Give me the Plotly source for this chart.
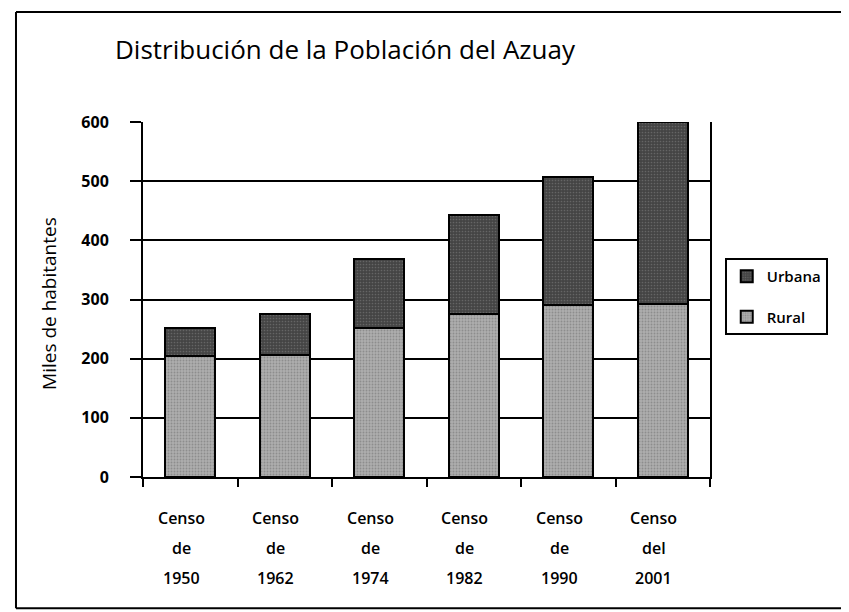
import plotly.graph_objects as go

# Data (miles de habitantes)
censos = ["Censo de 1950", "Censo de 1962", "Censo de 1974", "Censo de 1982", "Censo de 1990", "Censo del 2001"]
label_lines = [
    ["Censo", "de", "1950"],
    ["Censo", "de", "1962"],
    ["Censo", "de", "1974"],
    ["Censo", "de", "1982"],
    ["Censo", "de", "1990"],
    ["Censo", "del", "2001"],
]
rural = [205, 207, 251, 275, 291, 293]
urbana = [46, 68, 118, 168, 216, 307]
y_ticks = [0, 100, 200, 300, 400, 500, 600]

FONT = "Open Sans"
OFF = 8  # default body margin of the page

fig = go.Figure()
fig.add_trace(go.Bar(
    x=censos, y=rural, name="Rural", legendgroup="r", legendrank=2,
    marker=dict(color="#a3a3a3", line=dict(color="black", width=2),
                pattern=dict(shape=".", size=3, solidity=0.3, fgcolor="#6e6e6e", bgcolor="#adadad")),
))
fig.add_trace(go.Bar(
    x=censos, y=urbana, name="Urbana", legendgroup="u", legendrank=1,
    marker=dict(color="#505050", line=dict(color="black", width=2),
                pattern=dict(shape=".", size=3, solidity=0.25, fgcolor="#858585", bgcolor="#444444")),
))

annotations = []
row_y = [-0.115, -0.2, -0.285]
for cat, lines in zip(censos, label_lines):
    for j, t in enumerate(lines):
        annotations.append(dict(
            x=cat, xref="x", y=row_y[j], yref="paper", text=t, showarrow=False,
            xshift=-9, font=dict(family=FONT, size=16, color="black", weight=600),
            xanchor="center", yanchor="middle",
        ))
annotations.append(dict(
    x=-0.166, xref="paper", y=0.49, yref="paper", text="Miles de habitantes",
    textangle=-90, showarrow=False, font=dict(family=FONT, size=19, color="black"),
    xanchor="center", yanchor="middle",
))

shapes = [
    dict(type="line", xref="paper", yref="paper", x0=-0.224, x1=-0.224, y0=-0.37, y1=1.31,
         line=dict(color="black", width=2)),
    dict(type="line", xref="paper", yref="paper", x0=-0.224, x1=1.25, y0=1.31, y1=1.31,
         line=dict(color="black", width=2)),
    dict(type="line", xref="paper", yref="paper", x0=-0.224, x1=1.25, y0=-0.37, y1=-0.37,
         line=dict(color="black", width=2)),
]

W, H = 849 - OFF, 612 - OFF
fig.update_layout(
    width=W, height=H,
    margin=dict(l=143 - OFF, r=139, t=122 - OFF, b=135),
    paper_bgcolor="white", plot_bgcolor="white",
    barmode="stack", bargap=0.47,
    title=dict(text="Distribución de la Población del Azuay", x=(115 - OFF) / W, xanchor="left",
               y=1 - (50 - OFF) / H, yanchor="middle",
               font=dict(family=FONT, size=26, color="black")),
    font=dict(family=FONT, color="black"),
    showlegend=True,
    legend=dict(x=1.026, xanchor="left", y=0.617, yanchor="top",
                bordercolor="black", borderwidth=2, bgcolor="white",
                traceorder="grouped", tracegroupgap=18, entrywidth=118,
                font=dict(family=FONT, size=15, color="black", weight=600)),
    annotations=annotations,
    shapes=shapes,
)
fig.update_xaxes(
    type="category", range=[-0.5, 5.5], showticklabels=False, showline=True,
    linecolor="black", linewidth=2,
    ticks="outside", tickson="boundaries", ticklen=8, tickwidth=2, tickcolor="black",
    showgrid=False, mirror=False,
)
fig.update_yaxes(
    range=[0, 600], tickvals=y_ticks, showline=True, linecolor="black", linewidth=2,
    mirror=True, ticks="outside", ticklen=11, tickwidth=2, tickcolor="black",
    showgrid=True, gridcolor="black", gridwidth=2, zeroline=False,
    ticklabelstandoff=18,
    tickfont=dict(family=FONT, size=16, color="black", weight=700),
)

fig.write_html("out.html")
